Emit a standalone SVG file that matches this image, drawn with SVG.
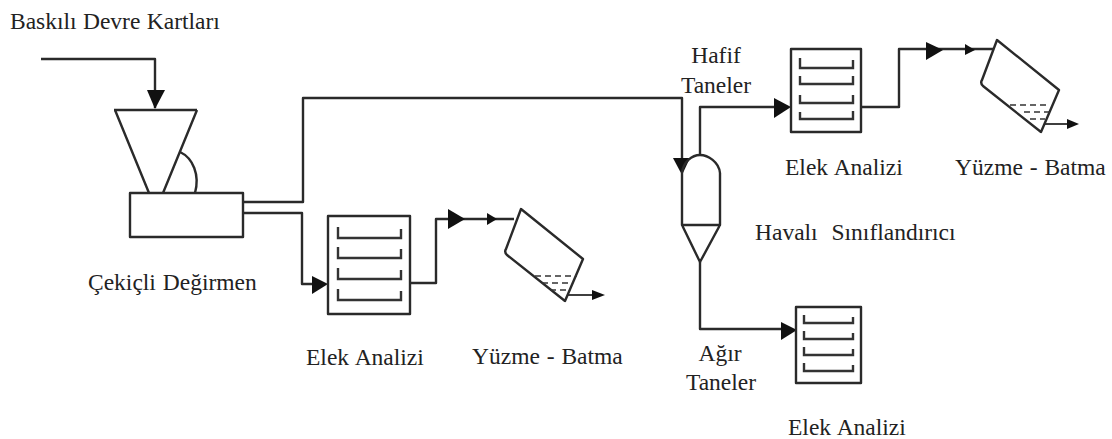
<svg xmlns="http://www.w3.org/2000/svg" width="1112" height="439" viewBox="0 0 1112 439">
<style>
text{font-family:"Liberation Serif","Times New Roman",serif;font-size:23.5px;fill:#222}
.s{fill:none;stroke:#2a2a2a;stroke-width:2.4;stroke-linejoin:round}
.t{fill:none;stroke:#333;stroke-width:2.4}
.d{fill:none;stroke:#333;stroke-width:1.6;stroke-dasharray:6 4}
.a{fill:#111;stroke:none}
.w2{word-spacing:1px}
.y{word-spacing:1px}
.b{word-spacing:.5px}
.w8{word-spacing:8px}
</style>
<defs>
<g id="tank"><path class="s" d="M0 0L62 50L44 92L-14 46Q-17 43 -15 40Z"/></g>
</defs>
<rect width="1112" height="439" fill="#fff"/>
<g id="connectors">
<path class="s" d="M41 59H155V108"/>
<path class="s" d="M244 202H303V98H682V158"/>
<path class="s" d="M244 213H302V284H314"/>
<path class="s" d="M411 283H436V219H514"/>
<path class="s" d="M700 155V107H776"/>
<path class="s" d="M861 107H899V49H993"/>
<path class="s" d="M700 262V329H782"/>
<path class="s" style="stroke-width:1.8" d="M568 295H594"/>
<path class="s" style="stroke-width:1.8" d="M1045 124H1068"/>
<polygon class="a" points="147,90 165,90 155,109"/>
<polygon class="a" points="312,276 328,284 312,294"/>
<polygon class="a" points="448,209 465,219 448,229"/>
<polygon class="a" points="487,213 497,219 487,225"/>
<polygon class="a" points="592,290 605,295 592,300"/>
<polygon class="a" points="673,158 690,158 682,175"/>
<polygon class="a" points="774,98 791,107 774,118"/>
<polygon class="a" points="926,42 943,50 926,60"/>
<polygon class="a" points="965,44 975,50 965,55"/>
<polygon class="a" points="1067,119 1079,124 1067,129"/>
<polygon class="a" points="781,322 797,330 781,340"/>
</g>
<g id="label-input"><text x="10" y="29" class="b">Baskılı Devre Kartları</text></g>
<g id="crusher">
<path class="s" d="M114 110H197"/>
<path class="s" d="M115 110L149 193M197 110L163 193"/>
<path class="s" d="M180 152C193 158 200 175 195 193"/>
<rect class="s" x="130" y="193" width="113" height="44"/>
<text x="88" y="290" class="w2">Çekiçli Değirmen</text>
</g>
<g id="sieve-1">
<rect class="s" x="328" y="216" width="82" height="98"/>
<path class="t" d="M338 227V238H401V229M338 247V258H401V249M338 268V279H401V270M338 289V300H401V291"/>
<text x="306" y="365" class="w2">Elek Analizi</text>
</g>
<g id="tank-1">
<use href="#tank" x="521" y="209"/>
<path class="d" d="M535 276H577M542 283H572M550 290H568"/>
<text x="472" y="364" class="y">Yüzme - Batma</text>
</g>
<g id="classifier">
<path class="s" d="M682 225V173C683 162 692 155 700 155C708 155 719 162 720 173V225ZM682 225L700 262L720 225"/>
<text x="755" y="240" class="w8">Havalı Sınıflandırıcı</text>
</g>
<g id="label-light"><text x="716" y="63" text-anchor="middle">Hafif</text><text x="716" y="93" text-anchor="middle">Taneler</text></g>
<g id="sieve-2">
<rect class="s" x="791" y="49" width="70" height="83"/>
<path class="t" d="M800 58V68H853V60M800 76V84H853V76M800 95V103H853V95M800 112V119H853V111"/>
<text x="785" y="175" class="w2">Elek Analizi</text>
</g>
<g id="tank-2">
<use href="#tank" x="997" y="40"/>
<path class="d" d="M1010 105H1050M1024 112H1050M1030 119H1045"/>
<text x="955" y="175" class="y">Yüzme - Batma</text>
</g>
<g id="label-heavy"><text x="720" y="361" text-anchor="middle">Ağır</text><text x="721" y="390" text-anchor="middle">Taneler</text></g>
<g id="sieve-3">
<rect class="s" x="796" y="307" width="65" height="76"/>
<path class="t" d="M804 315V323H853V317M804 331V339H853V333M804 347V355H853V349M804 363V371H853V365"/>
<text x="788" y="435" class="w2">Elek Analizi</text>
</g>
</svg>
